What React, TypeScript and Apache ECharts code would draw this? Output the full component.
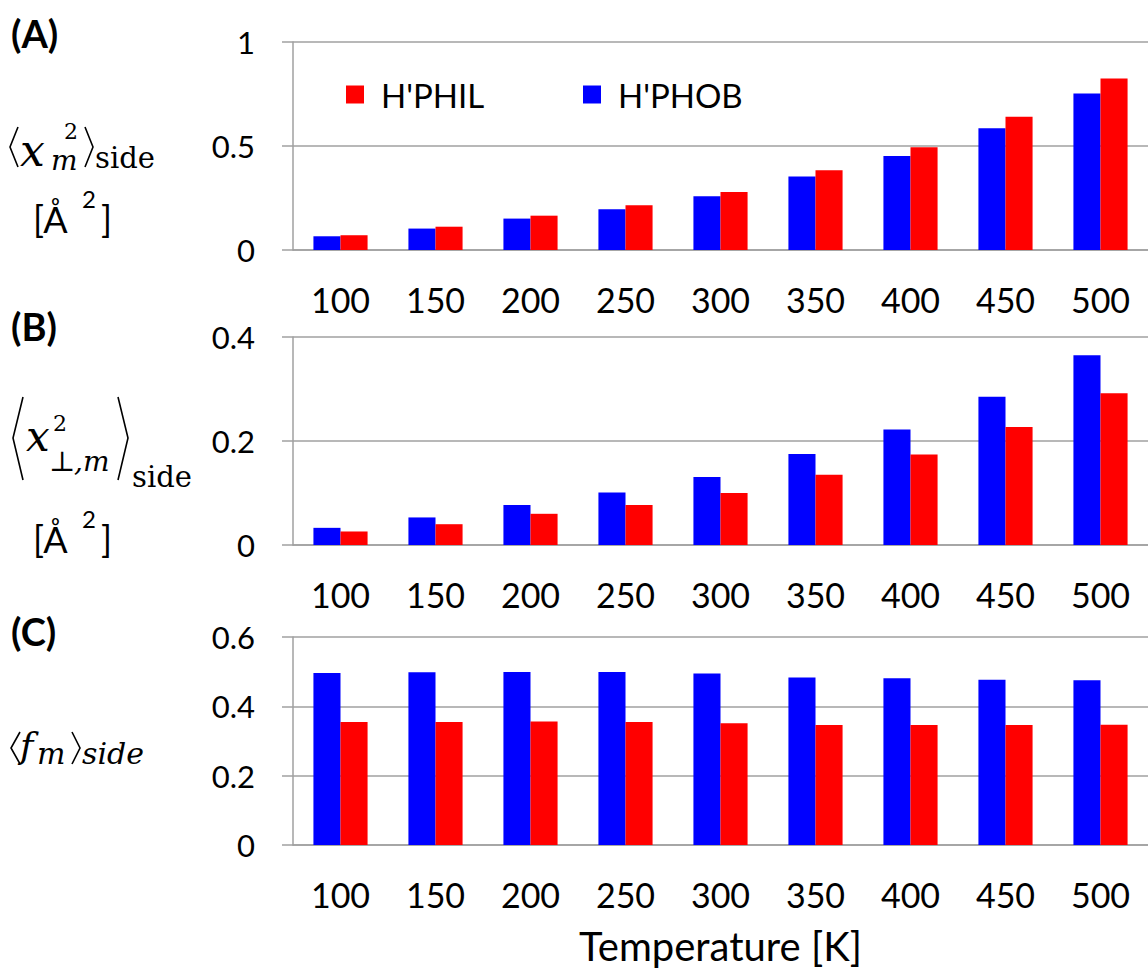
import React, { useEffect, useRef } from "react";
import * as echarts from "echarts";

const categories = ["100", "150", "200", "250", "300", "350", "400", "450", "500"];

// Panel A: <x_m^2>_side [Å^2]
const aPhob = [0.066, 0.103, 0.151, 0.196, 0.258, 0.353, 0.452, 0.585, 0.752];
const aPhil = [0.071, 0.112, 0.165, 0.215, 0.279, 0.383, 0.494, 0.641, 0.825];

// Panel B: <x_perp,m^2>_side [Å^2]
const bPhob = [0.033, 0.053, 0.077, 0.101, 0.131, 0.175, 0.222, 0.285, 0.365];
const bPhil = [0.026, 0.040, 0.060, 0.077, 0.100, 0.135, 0.174, 0.227, 0.292];

// Panel C: <f_m>_side
const cPhob = [0.496, 0.498, 0.499, 0.499, 0.495, 0.483, 0.481, 0.477, 0.475];
const cPhil = [0.355, 0.355, 0.356, 0.355, 0.351, 0.346, 0.346, 0.346, 0.347];

const yMaxes = [1, 0.4, 0.6];
const yIntervals = [0.5, 0.2, 0.2];

const PHIL = "H'PHIL";
const PHOB = "H'PHOB";
const BLUE = "#0000ff";
const RED = "#ff0000";
const GRAY = "#a0a0a0";
const SANS = "Lato, 'Open Sans', sans-serif";
const SERIF = "'DejaVu Serif', 'Liberation Serif', serif";

export default function App() {
  const ref = useRef<HTMLDivElement>(null);
  useEffect(() => {
    if (!ref.current) return;
    const chart = echarts.init(ref.current, null, { renderer: "svg" });
    const tops = [42, 337, 637];
    const grids = tops.map((t) => ({ left: 293, top: t, width: 860, height: 208 }));
    const xAxes = tops.map((_, i) => ({
      type: "category",
      gridIndex: i,
      data: categories,
      axisLine: { lineStyle: { color: GRAY, width: 1.5 } },
      axisTick: { length: 12, lineStyle: { color: GRAY, width: 1.5 } },
      axisLabel: { color: "#000", fontSize: 34, fontFamily: SANS, margin: 32, lineHeight: 34 },
      ...(i === 2
        ? {
            name: "Temperature [K]",
            nameLocation: "middle",
            nameGap: 81,
            nameTextStyle: { color: "#000", fontSize: 40, fontFamily: SANS, lineHeight: 40 },
          }
        : {}),
    }));
    const yAxes = tops.map((_, i) => ({
      type: "value",
      gridIndex: i,
      min: 0,
      max: yMaxes[i],
      interval: yIntervals[i],
      axisLine: { show: true, lineStyle: { color: GRAY, width: 1.5 } },
      axisTick: { show: true, length: 11, lineStyle: { color: GRAY, width: 1.5 } },
      axisLabel: { color: "#000", fontSize: 31, fontFamily: SANS, margin: 38 },
      splitLine: { show: true, lineStyle: { color: GRAY, width: 1.5 } },
    }));
    const data = [
      [aPhob, aPhil],
      [bPhob, bPhil],
      [cPhob, cPhil],
    ];
    const series: any[] = [];
    data.forEach((pair, i) => {
      series.push({
        type: "bar",
        name: PHOB,
        xAxisIndex: i,
        yAxisIndex: i,
        data: pair[0],
        itemStyle: { color: BLUE },
        barGap: "0%",
        barCategoryGap: "43%",
      });
      series.push({
        type: "bar",
        name: PHIL,
        xAxisIndex: i,
        yAxisIndex: i,
        data: pair[1],
        itemStyle: { color: RED },
        barGap: "0%",
        barCategoryGap: "43%",
      });
    });

    const legendText = { color: "#000", fontSize: 33, fontFamily: SANS, lineHeight: 33, padding: [0, 0, 0, 12] };
    const legends = [
      { data: [PHIL], left: 346, top: 78 },
      { data: [PHOB], left: 583, top: 78 },
    ].map((l) => ({
      ...l,
      padding: 0,
      itemWidth: 18,
      itemHeight: 18,
      icon: "rect",
      selectedMode: false,
      textStyle: legendText,
    }));

    const t = (text: string, x: number, y: number, font: string, extra: any = {}) => ({
      type: "text",
      x,
      y,
      style: { text, font, fill: "#000", align: "left", verticalAlign: "middle", ...extra },
    });
    const pl = (pts: number[][]) => ({
      type: "polyline",
      shape: { points: pts },
      style: { stroke: "#000", lineWidth: 1.6, fill: null },
    });

    const graphic: any[] = [
      // panel letters
      t("(A)", 11, 33, `bold 38px ${SANS}`),
      t("(B)", 11, 326, `bold 38px ${SANS}`),
      t("(C)", 11, 631, `bold 38px ${SANS}`),
      // Panel A label
      pl([[18, 127], [10, 147], [18, 167]]),
      t("x", 20, 150, `italic 44px ${SERIF}`),
      t("2", 64, 131, `22px ${SERIF}`),
      t("m", 51, 160, `italic 28px ${SERIF}`),
      pl([[85, 127], [93, 147], [85, 167]]),
      t("side", 95, 158, `29px ${SERIF}`),
      t("[Å", 33, 219, `36px ${SANS}`),
      t("2", 82, 198, `24px ${SANS}`),
      t("]", 101, 219, `36px ${SANS}`),
      // Panel B label
      pl([[23, 397], [13, 438], [23, 480]]),
      t("x", 26, 436, `italic 42px ${SERIF}`),
      t("2", 53, 423, `22px ${SERIF}`),
      t("⊥", 49, 461, `28px ${SERIF}`),
      t(",m", 74, 461, `italic 28px ${SERIF}`),
      pl([[118, 397], [128, 438], [118, 480]]),
      t("side", 132, 477, `29px ${SERIF}`),
      t("[Å", 33, 539, `36px ${SANS}`),
      t("2", 82, 518, `24px ${SANS}`),
      t("]", 101, 539, `36px ${SANS}`),
      // Panel C label
      pl([[20, 732], [11, 748], [20, 764]]),
      t("f", 20, 745, `italic 36px ${SERIF}`),
      t("m", 37, 753, `italic 30px ${SERIF}`),
      pl([[72, 732], [80, 748], [72, 764]]),
      t("side", 82, 753, `italic 30px ${SERIF}`),
    ];

    chart.setOption({
      animation: false,
      backgroundColor: "#fff",
      grid: grids,
      xAxis: xAxes,
      yAxis: yAxes,
      legend: legends,
      series,
      graphic,
    });
    return () => chart.dispose();
  }, []);
  return (
    <div
      ref={ref}
      style={{ position: "absolute", left: 0, top: 0, width: 1148, height: 970, background: "#fff" }}
    />
  );
}
